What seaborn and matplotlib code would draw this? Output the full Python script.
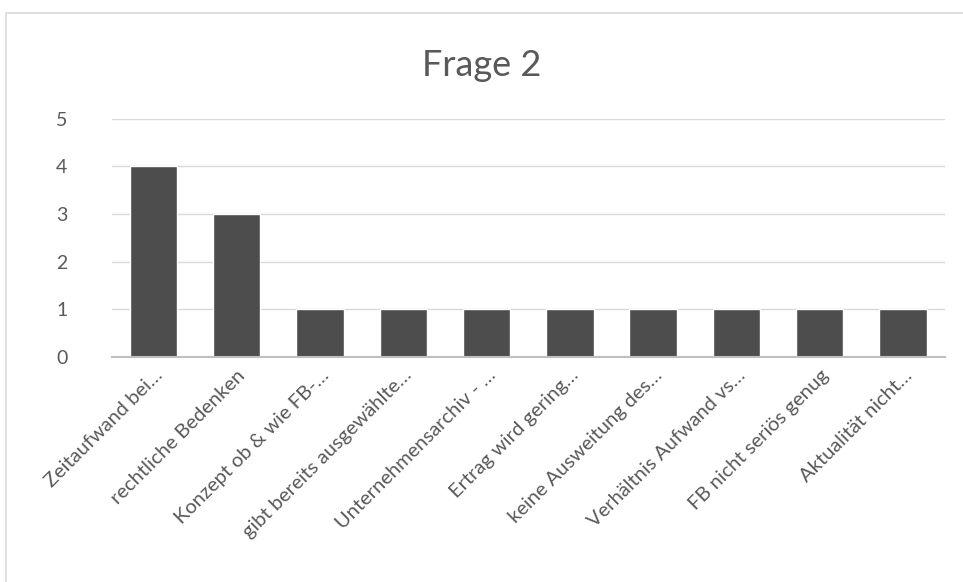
import matplotlib
matplotlib.use("Agg")
import matplotlib.pyplot as plt
import seaborn as sns
import pandas as pd
from matplotlib.patches import Rectangle

# Data
categories = [
    "Zeitaufwand bei…",
    "rechtliche Bedenken",
    "Konzept ob & wie FB-…",
    "gibt bereits ausgewählte…",
    "Unternehmensarchiv - …",
    "Ertrag wird gering…",
    "keine Ausweitung des…",
    "Verhältnis Aufwand vs…",
    "FB nicht seriös genug",
    "Aktualität nicht…",
]
counts = [4, 3, 1, 1, 1, 1, 1, 1, 1, 1]
y_ticks = [0, 1, 2, 3, 4, 5]

df = pd.DataFrame({"Kategorie": categories, "Anzahl": counts})

sns.set_style("white")
plt.rcParams["font.family"] = ["Lato", "DejaVu Sans"]

fig = plt.figure(figsize=(9.63, 5.82), dpi=100)
ax = fig.add_axes([0.116, 0.387, 0.865, 0.409])

sns.barplot(data=df, x="Kategorie", y="Anzahl", color="#4d4d4d",
            saturation=1, width=0.57, ax=ax, zorder=3)

ax.set_ylim(0, 5)
ax.set_yticks(y_ticks)
ax.yaxis.grid(True, color="#d9d9d9", linewidth=1, zorder=0)
ax.set_xlabel("")
ax.set_ylabel("")
for side in ["top", "right", "left"]:
    ax.spines[side].set_visible(False)
ax.spines["bottom"].set_color("#bfbfbf")
ax.spines["bottom"].set_linewidth(1.5)
ax.spines["bottom"].set_zorder(4)
ax.tick_params(axis="both", length=0, colors="#595959")
ax.tick_params(axis="y", pad=32, labelsize=14)
ax.tick_params(axis="x", pad=7, labelsize=14.5)
plt.setp(ax.get_xticklabels(), rotation=45, ha="right", rotation_mode="anchor")

fig.text(0.5, 0.888, "Frage 2", ha="center", va="center",
         fontsize=26, color="#595959")

# chart area border
fig.patches.append(Rectangle((6 / 963, -0.01), 1.0, 1 - 13 / 582 + 0.01,
                             transform=fig.transFigure, fill=False,
                             edgecolor="#d9d9d9", linewidth=1.2))

fig.savefig("out.png", dpi=100)
